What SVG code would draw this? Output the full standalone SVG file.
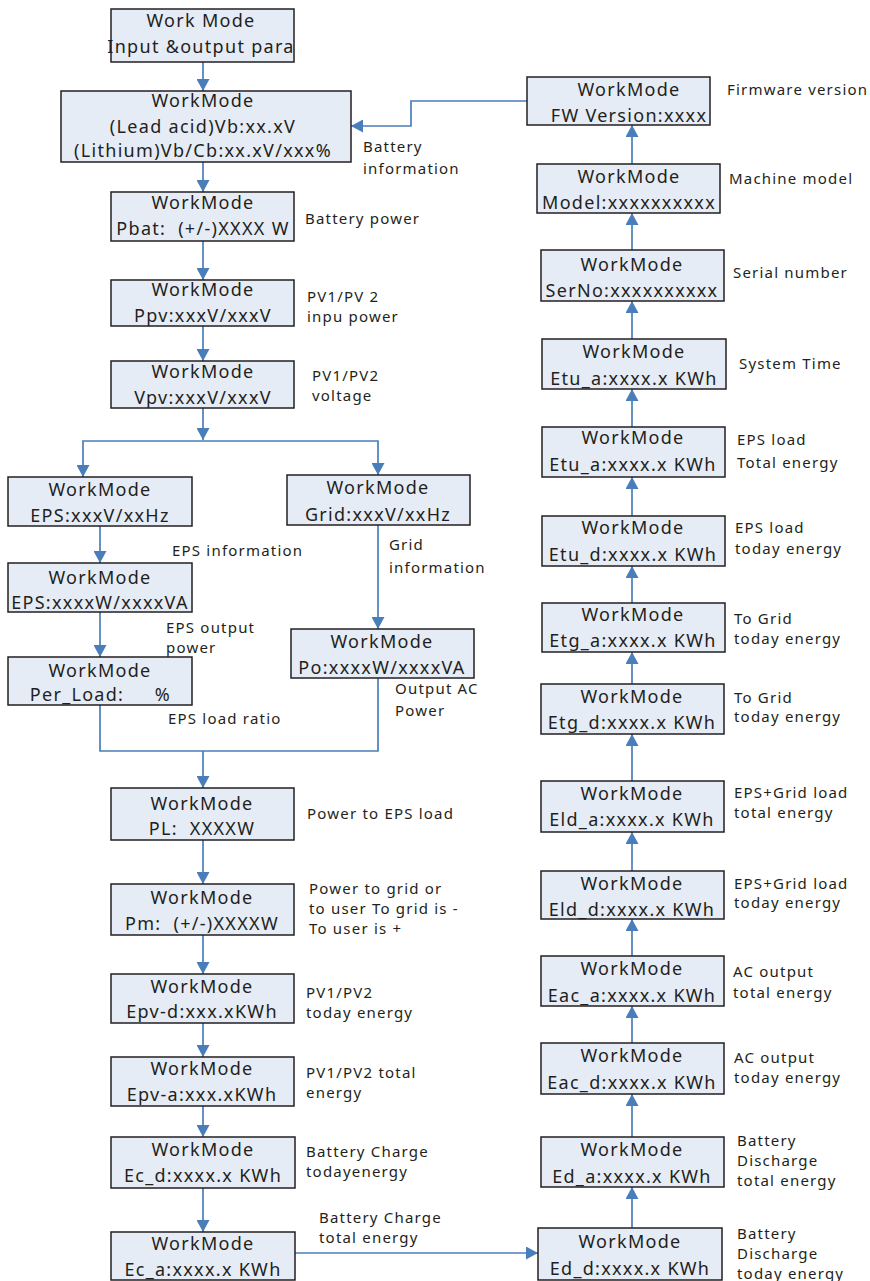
<svg xmlns="http://www.w3.org/2000/svg" width="870" height="1281" viewBox="0 0 870 1281">
<style>
.box{fill:#e6ecf6;stroke:#231f20;stroke-width:1.5}
.bt{font-family:"Noto Sans","DejaVu Sans",sans-serif;font-size:18px;letter-spacing:1.3px;fill:#231f20;text-anchor:middle;white-space:pre}
.lb{font-family:"Noto Sans","DejaVu Sans",sans-serif;font-size:15px;letter-spacing:1.2px;fill:#231f20}
.cn{fill:none;stroke:#4a7ebb;stroke-width:1.7}
</style>
<defs>
<marker id="ah" viewBox="0 0 12 13" refX="12" refY="6.5" markerWidth="12" markerHeight="13" markerUnits="userSpaceOnUse" orient="auto">
<path d="M0,0 L12,6.5 L0,13 z" fill="#4a7ebb"/>
</marker>
</defs>
<rect width="870" height="1281" fill="#ffffff"/>
<g id="connectors">
<path class="cn" d="M203,62 V91" marker-end="url(#ah)"/>
<path class="cn" d="M203,162 V192" marker-end="url(#ah)"/>
<path class="cn" d="M203,241 V280" marker-end="url(#ah)"/>
<path class="cn" d="M203,326 V361" marker-end="url(#ah)"/>
<path class="cn" d="M203,408 V440" marker-end="url(#ah)"/>
<path class="cn" d="M203,441 H83 V477" marker-end="url(#ah)"/>
<path class="cn" d="M203,441 H378 V475" marker-end="url(#ah)"/>
<path class="cn" d="M100,526 V563" marker-end="url(#ah)"/>
<path class="cn" d="M100,612 V657" marker-end="url(#ah)"/>
<path class="cn" d="M378,525 V629" marker-end="url(#ah)"/>
<path class="cn" d="M100,705 V751 H378 V678"/>
<path class="cn" d="M203,751 V788" marker-end="url(#ah)"/>
<path class="cn" d="M203,840 V884" marker-end="url(#ah)"/>
<path class="cn" d="M203,935 V974" marker-end="url(#ah)"/>
<path class="cn" d="M203,1023 V1057" marker-end="url(#ah)"/>
<path class="cn" d="M203,1106 V1137" marker-end="url(#ah)"/>
<path class="cn" d="M203,1188 V1232" marker-end="url(#ah)"/>
<path class="cn" d="M295,1253 H538" marker-end="url(#ah)"/>
<path class="cn" d="M632,1228 V1187" marker-end="url(#ah)"/>
<path class="cn" d="M632,1137 V1094" marker-end="url(#ah)"/>
<path class="cn" d="M632,1043 V1006" marker-end="url(#ah)"/>
<path class="cn" d="M632,956 V919" marker-end="url(#ah)"/>
<path class="cn" d="M632,871 V832" marker-end="url(#ah)"/>
<path class="cn" d="M632,781 V734" marker-end="url(#ah)"/>
<path class="cn" d="M632,684 V652" marker-end="url(#ah)"/>
<path class="cn" d="M632,603 V566" marker-end="url(#ah)"/>
<path class="cn" d="M632,516 V477" marker-end="url(#ah)"/>
<path class="cn" d="M632,427 V389" marker-end="url(#ah)"/>
<path class="cn" d="M632,339 V301" marker-end="url(#ah)"/>
<path class="cn" d="M632,250 V213" marker-end="url(#ah)"/>
<path class="cn" d="M632,164 V125" marker-end="url(#ah)"/>
<path class="cn" d="M527,101 H411 V126 H351" marker-end="url(#ah)"/>
</g>
<g id="n-input">
<rect class="box" x="111" y="9" width="183" height="53"/>
<text class="bt" x="201" y="27">Work Mode</text>
<text class="bt" x="201" y="53">Input &amp;output para</text>
</g>
<g id="n-battery">
<rect class="box" x="61" y="91" width="290" height="71"/>
<text class="bt" x="203" y="107">WorkMode</text>
<text class="bt" x="203" y="133">(Lead acid)Vb:xx.xV</text>
<text class="bt" x="203" y="157">(Lithium)Vb/Cb:xx.xV/xxx%</text>
</g>
<g id="n-pbat">
<rect class="box" x="111" y="192" width="183" height="49"/>
<text class="bt" x="203" y="209">WorkMode</text>
<text class="bt" x="203" y="235" xml:space="preserve">Pbat:  (+/-)XXXX W</text>
</g>
<g id="n-ppv">
<rect class="box" x="111" y="280" width="183" height="46"/>
<text class="bt" x="203" y="296">WorkMode</text>
<text class="bt" x="203" y="322">Ppv:xxxV/xxxV</text>
</g>
<g id="n-vpv">
<rect class="box" x="111" y="361" width="183" height="47"/>
<text class="bt" x="203" y="378">WorkMode</text>
<text class="bt" x="203" y="404">Vpv:xxxV/xxxV</text>
</g>
<g id="n-eps1">
<rect class="box" x="8" y="477" width="184" height="49"/>
<text class="bt" x="100" y="496">WorkMode</text>
<text class="bt" x="100" y="522">EPS:xxxV/xxHz</text>
</g>
<g id="n-grid">
<rect class="box" x="287" y="475" width="183" height="50"/>
<text class="bt" x="378" y="494">WorkMode</text>
<text class="bt" x="378" y="521">Grid:xxxV/xxHz</text>
</g>
<g id="n-eps2">
<rect class="box" x="8" y="563" width="184" height="49"/>
<text class="bt" x="100" y="584">WorkMode</text>
<text class="bt" x="100" y="609">EPS:xxxxW/xxxxVA</text>
</g>
<g id="n-perload">
<rect class="box" x="8" y="657" width="184" height="48"/>
<text class="bt" x="100" y="677">WorkMode</text>
<text class="bt" x="77" y="701">Per_Load:<tspan x="163">%</tspan></text>
</g>
<g id="n-po">
<rect class="box" x="291" y="629" width="183" height="49"/>
<text class="bt" x="382" y="648">WorkMode</text>
<text class="bt" x="382" y="674">Po:xxxxW/xxxxVA</text>
</g>
<g id="n-pl">
<rect class="box" x="111" y="788" width="183" height="52"/>
<text class="bt" x="202" y="810">WorkMode</text>
<text class="bt" x="202" y="835" xml:space="preserve">PL:  XXXXW</text>
</g>
<g id="n-pm">
<rect class="box" x="111" y="884" width="183" height="51"/>
<text class="bt" x="202" y="904">WorkMode</text>
<text class="bt" x="202" y="930" xml:space="preserve">Pm:  (+/-)XXXXW</text>
</g>
<g id="n-epvd">
<rect class="box" x="111" y="974" width="183" height="49"/>
<text class="bt" x="202" y="993">WorkMode</text>
<text class="bt" x="202" y="1018">Epv-d:xxx.xKWh</text>
</g>
<g id="n-epva">
<rect class="box" x="111" y="1057" width="183" height="49"/>
<text class="bt" x="202" y="1075">WorkMode</text>
<text class="bt" x="202" y="1101">Epv-a:xxx.xKWh</text>
</g>
<g id="n-ecd">
<rect class="box" x="111" y="1137" width="184" height="51"/>
<text class="bt" x="203" y="1156">WorkMode</text>
<text class="bt" x="203" y="1182">Ec_d:xxxx.x KWh</text>
</g>
<g id="n-eca">
<rect class="box" x="111" y="1232" width="184" height="48"/>
<text class="bt" x="203" y="1250">WorkMode</text>
<text class="bt" x="203" y="1276">Ec_a:xxxx.x KWh</text>
</g>
<g id="n-fw">
<rect class="box" x="527" y="77" width="183" height="48"/>
<text class="bt" x="629" y="96">WorkMode</text>
<text class="bt" x="629" y="122">FW Version:xxxx</text>
</g>
<g id="n-model">
<rect class="box" x="537" y="164" width="183" height="49"/>
<text class="bt" x="629" y="183">WorkMode</text>
<text class="bt" x="629" y="209">Model:xxxxxxxxxx</text>
</g>
<g id="n-serno">
<rect class="box" x="541" y="250" width="183" height="51"/>
<text class="bt" x="632" y="271">WorkMode</text>
<text class="bt" x="632" y="297">SerNo:xxxxxxxxxx</text>
</g>
<g id="n-systime">
<rect class="box" x="542" y="339" width="184" height="50"/>
<text class="bt" x="634" y="358">WorkMode</text>
<text class="bt" x="634" y="385">Etu_a:xxxx.x KWh</text>
</g>
<g id="n-etua">
<rect class="box" x="542" y="427" width="183" height="50"/>
<text class="bt" x="633" y="444">WorkMode</text>
<text class="bt" x="633" y="471">Etu_a:xxxx.x KWh</text>
</g>
<g id="n-etud">
<rect class="box" x="542" y="516" width="183" height="50"/>
<text class="bt" x="633" y="534">WorkMode</text>
<text class="bt" x="633" y="561">Etu_d:xxxx.x KWh</text>
</g>
<g id="n-etga">
<rect class="box" x="542" y="603" width="183" height="49"/>
<text class="bt" x="633" y="621">WorkMode</text>
<text class="bt" x="633" y="647">Etg_a:xxxx.x KWh</text>
</g>
<g id="n-etgd">
<rect class="box" x="541" y="684" width="183" height="50"/>
<text class="bt" x="632" y="703">WorkMode</text>
<text class="bt" x="632" y="729">Etg_d:xxxx.x KWh</text>
</g>
<g id="n-elda">
<rect class="box" x="541" y="781" width="183" height="51"/>
<text class="bt" x="632" y="800">WorkMode</text>
<text class="bt" x="632" y="826">Eld_a:xxxx.x KWh</text>
</g>
<g id="n-eldd">
<rect class="box" x="541" y="871" width="183" height="48"/>
<text class="bt" x="632" y="890">WorkMode</text>
<text class="bt" x="632" y="916">Eld_d:xxxx.x KWh</text>
</g>
<g id="n-eaca">
<rect class="box" x="541" y="956" width="183" height="50"/>
<text class="bt" x="632" y="975">WorkMode</text>
<text class="bt" x="632" y="1002">Eac_a:xxxx.x KWh</text>
</g>
<g id="n-eacd">
<rect class="box" x="541" y="1043" width="183" height="51"/>
<text class="bt" x="632" y="1062">WorkMode</text>
<text class="bt" x="632" y="1089">Eac_d:xxxx.x KWh</text>
</g>
<g id="n-eda">
<rect class="box" x="541" y="1137" width="183" height="50"/>
<text class="bt" x="632" y="1156">WorkMode</text>
<text class="bt" x="632" y="1183">Ed_a:xxxx.x KWh</text>
</g>
<g id="n-edd">
<rect class="box" x="538" y="1228" width="184" height="52"/>
<text class="bt" x="630" y="1248">WorkMode</text>
<text class="bt" x="630" y="1275">Ed_d:xxxx.x KWh</text>
</g>
<g id="labels">
<text class="lb" x="363" y="152">Battery</text>
<text class="lb" x="363" y="174">information</text>
<text class="lb" x="305" y="224">Battery power</text>
<text class="lb" x="307" y="302">PV1/PV 2</text>
<text class="lb" x="307" y="322">inpu power</text>
<text class="lb" x="312" y="381">PV1/PV2</text>
<text class="lb" x="312" y="401">voltage</text>
<text class="lb" x="172" y="556">EPS information</text>
<text class="lb" x="389" y="550">Grid</text>
<text class="lb" x="389" y="573">information</text>
<text class="lb" x="166" y="633">EPS output</text>
<text class="lb" x="166" y="653">power</text>
<text class="lb" x="168" y="724">EPS load ratio</text>
<text class="lb" x="395" y="694">Output AC</text>
<text class="lb" x="395" y="716">Power</text>
<text class="lb" x="307" y="819">Power to EPS load</text>
<text class="lb" x="309" y="894">Power to grid or</text>
<text class="lb" x="309" y="914">to user To grid is -</text>
<text class="lb" x="309" y="934">To user is +</text>
<text class="lb" x="306" y="998">PV1/PV2</text>
<text class="lb" x="306" y="1018">today energy</text>
<text class="lb" x="306" y="1078">PV1/PV2 total</text>
<text class="lb" x="306" y="1098">energy</text>
<text class="lb" x="306" y="1157">Battery Charge</text>
<text class="lb" x="306" y="1177">todayenergy</text>
<text class="lb" x="319" y="1223">Battery Charge</text>
<text class="lb" x="319" y="1243">total energy</text>
<text class="lb" x="727" y="95">Firmware version</text>
<text class="lb" x="729" y="184">Machine model</text>
<text class="lb" x="733" y="278">Serial number</text>
<text class="lb" x="739" y="369">System Time</text>
<text class="lb" x="737" y="445">EPS load</text>
<text class="lb" x="737" y="468">Total energy</text>
<text class="lb" x="735" y="533">EPS load</text>
<text class="lb" x="735" y="554">today energy</text>
<text class="lb" x="734" y="624">To Grid</text>
<text class="lb" x="734" y="644">today energy</text>
<text class="lb" x="734" y="703">To Grid</text>
<text class="lb" x="734" y="722">today energy</text>
<text class="lb" x="734" y="798">EPS+Grid load</text>
<text class="lb" x="734" y="818">total energy</text>
<text class="lb" x="734" y="889">EPS+Grid load</text>
<text class="lb" x="734" y="908">today energy</text>
<text class="lb" x="733" y="977">AC output</text>
<text class="lb" x="733" y="998">total energy</text>
<text class="lb" x="734" y="1063">AC output</text>
<text class="lb" x="734" y="1083">today energy</text>
<text class="lb" x="737" y="1146">Battery</text>
<text class="lb" x="737" y="1166">Discharge</text>
<text class="lb" x="737" y="1186">total energy</text>
<text class="lb" x="737" y="1239">Battery</text>
<text class="lb" x="737" y="1259">Discharge</text>
<text class="lb" x="737" y="1279">today energy</text>
</g>
</svg>
